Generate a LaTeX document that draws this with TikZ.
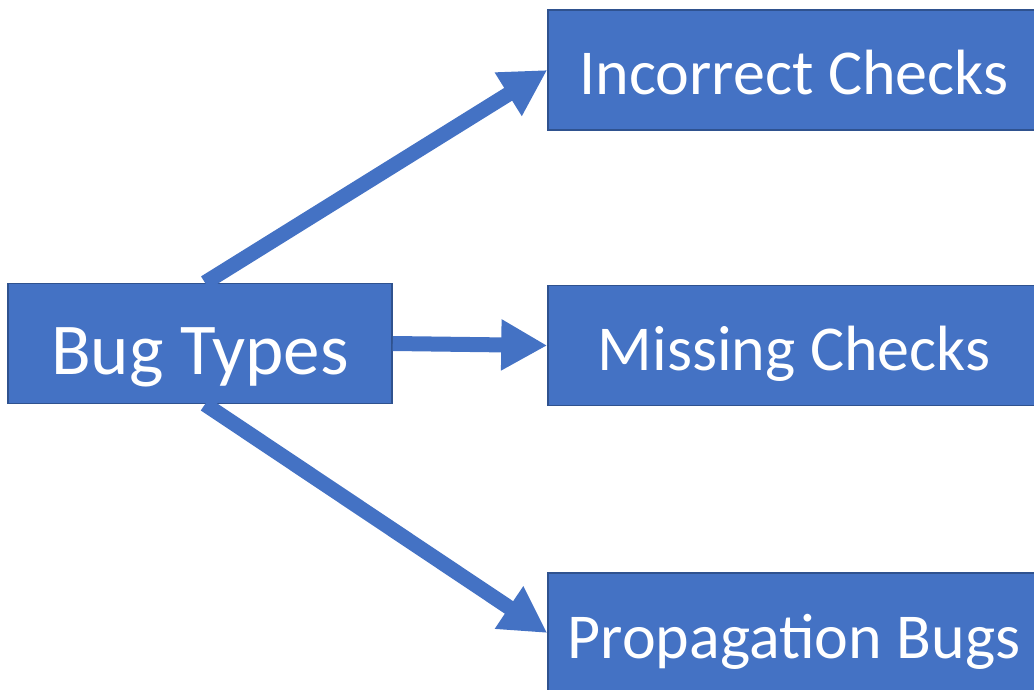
\documentclass[tikz,border=0pt]{standalone}
\usepackage{fontspec}
\setmainfont{Carlito}
\usetikzlibrary{arrows.meta}
\definecolor{boxblue}{HTML}{4472C4}
\definecolor{boxedge}{HTML}{2F528F}
\tikzset{
  typebox/.style={draw=boxedge, line width=1.5pt, fill=boxblue, text=white,
    inner sep=0pt, minimum height=120pt, text height=50pt, text depth=0pt,
    font=\fontsize{64}{72}\selectfont},
  rootbox/.style={typebox, text height=61pt, font=\fontsize{73}{80}\selectfont},
  bigarrow/.style={draw=boxblue, line width=15pt,
    -{Triangle[length=46pt,width=48pt]}}
}
\begin{document}
\begin{tikzpicture}[x=1pt,y=-1pt]
\useasboundingbox (0,0) rectangle (1034,690);
\clip (0,0) rectangle (1034,690);
\node[rootbox, minimum width=384pt] (bug) at (200,343.5) {Bug Types};
\node[typebox, minimum width=492pt] (inc) at (794,70) {Incorrect Checks};
\node[typebox, minimum width=492pt] (mis) at (794,345.5) {Missing Checks};
\node[typebox, minimum width=492pt] (prop) at (794,633) {Propagation Bugs};
\draw[bigarrow] ([xshift=5pt]bug.north) -- (inc.west);
\draw[bigarrow] (bug.east) -- (mis.west);
\draw[bigarrow] ([xshift=5pt]bug.south) -- (prop.west);
\end{tikzpicture}
\end{document}
